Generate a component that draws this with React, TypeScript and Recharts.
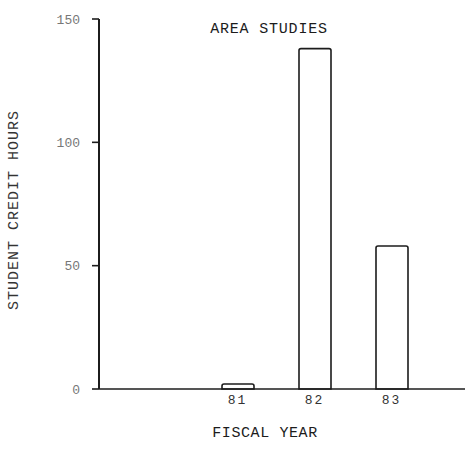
import { Bar, BarChart, Customized, XAxis, YAxis } from "recharts";

const years = ["81", "82", "83"];
const creditHours = [2, 138, 58];
const yTicks = [0, 50, 100, 150];

const data = years.map((year, i) => ({ year, hours: creditHours[i] }));

const ink = "#1c1c1c";
const font = "'Liberation Mono', 'DejaVu Sans Mono', monospace";

function Title() {
  return (
    <text x={269} y={33} textAnchor="middle" fontFamily={font} fontSize={15} fill={ink} letterSpacing={0.8}>
      AREA STUDIES
    </text>
  );
}

export default function App() {
  return (
    <div style={{ position: "absolute", left: 0, top: 0, background: "#fff" }}>
      <BarChart width={473} height={455} data={data} margin={{ top: 19, right: 8, bottom: 36, left: 0 }} barSize={32}>
        <Customized component={Title} />
        <XAxis
          dataKey="year"
          height={30}
          padding={{ left: 100, right: 35 }}
          tickLine={false}
          tickSize={4}
          axisLine={{ stroke: ink, strokeWidth: 1.6 }}
          tick={{ fill: "#333", fontFamily: font, fontSize: 13, letterSpacing: 2 }}
          label={{
            content: () => (
              <text x={265} y={437} textAnchor="middle" fontFamily={font} fontSize={15} fill={ink} letterSpacing={0.6}>
                FISCAL YEAR
              </text>
            )
          }}
        />
        <YAxis
          width={99}
          domain={[0, 150]}
          ticks={yTicks}
          interval={0}
          tickSize={7}
          tickMargin={12}
          axisLine={{ stroke: ink, strokeWidth: 2 }}
          tickLine={{ stroke: ink, strokeWidth: 1.6 }}
          tick={{ fill: "#777", fontFamily: font, fontSize: 13 }}
          label={{
            content: () => (
              <text
                x={14}
                y={210}
                transform="rotate(-90 14 210)"
                textAnchor="middle"
                dominantBaseline="central"
                fontFamily={font}
                fontSize={15}
                fill="#333"
                letterSpacing={1}
              >
                STUDENT CREDIT HOURS
              </text>
            )
          }}
        />
        <Bar dataKey="hours" fill="#fff" stroke={ink} strokeWidth={1.6} radius={[2, 2, 0, 0]} isAnimationActive={false} />
      </BarChart>
    </div>
  );
}
